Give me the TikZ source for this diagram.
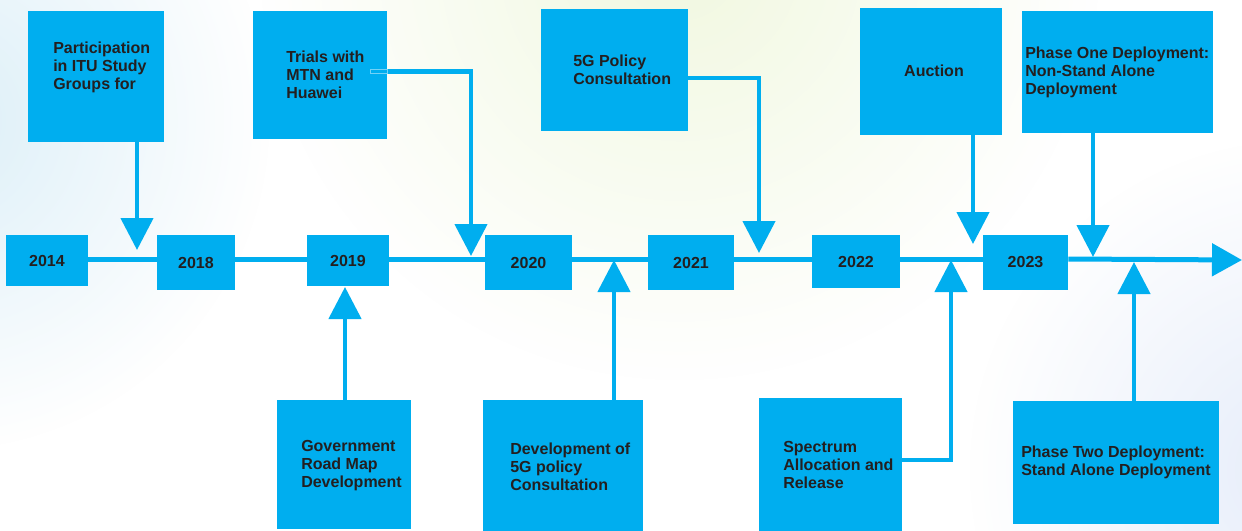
\documentclass[tikz,border=0pt]{standalone}
\usepackage{fontspec}
\setmainfont{Liberation Sans}
\usetikzlibrary{arrows.meta,fadings}
\definecolor{boxblue}{HTML}{00AEEF}
\definecolor{txt}{HTML}{231F20}
\definecolor{bgblue}{HTML}{DCEFF8}
\definecolor{bggreen}{HTML}{F1F8E0}
\definecolor{bglav}{HTML}{E6EDFA}
\tikzfading[name=softfade, inner color=transparent!0, outer color=transparent!100]
\begin{document}
\begin{tikzpicture}[x=0.75pt, y=-0.75pt,
  box/.style 2 args={draw=none, fill=boxblue, rectangle, inner sep=0pt,
    minimum width=#1*0.75pt, minimum height=#2*0.75pt,
    font=\fontsize{12}{13.5}\selectfont\bfseries, text=txt},
  lbl/.style={anchor=north west, inner sep=0pt, align=left,
    font=\fontsize{12}{13.5}\selectfont\bfseries, text=txt},
  conn/.style={draw=boxblue, line width=3.4pt,
    -{Triangle[length=24pt, width=24pt]}},
  tline/.style={draw=boxblue, line width=3.75pt}]
\useasboundingbox (0,0) rectangle (1242,531);
% background
\begin{scope}
\clip (0,0) rectangle (1242,531);
\fill[white] (0,0) rectangle (1242,531);
\fill[bgblue, path fading=softfade] (-60,120) circle (330);
\fill[bggreen, path fading=softfade] (680,-40) circle (420);
\fill[bglav, path fading=softfade] (1300,470) circle (330);
\end{scope}

% year boxes
\node[box={82}{51}] (y14) at (47,260.5) {2014};
\node[box={78}{55}] (y18) at (196,262.5) {2018};
\node[box={82}{51}] (y19) at (348,260.5) {2019};
\node[box={87}{55}] (y20) at (528.5,262.5) {2020};
\node[box={86}{55}] (y21) at (691,262.5) {2021};
\node[box={88}{53}] (y22) at (856,261.5) {2022};
\node[box={85}{55}] (y23) at (1025.5,262.5) {2023};
\coordinate (tl) at (0,259);
\coordinate (tlend) at (1242,260);

% event boxes (top)
\node[box={136}{131}] (p1) at (96,76.5) {};
\node[box={134}{128}] (p2) at (320,75) {};
\node[box={147}{122}] (p3) at (614.5,70) {};
\node[box={142}{127}] (p4) at (931,71.5) {};
\node[box={191}{122}] (p5) at (1117.5,72) {};
% event boxes (bottom)
\node[box={134}{129}] (q1) at (344,464.5) {};
\node[box={160}{131}] (q2) at (563,465.5) {};
\node[box={143}{133}] (q3) at (830.5,464.5) {};
\node[box={206}{123}] (q4) at (1116,462.5) {};

% labels
\node[lbl] (t1) at (53,42) {Participation\\in ITU Study\\Groups for};
\node[lbl] (t2) at (286,51) {Trials with\\MTN and\\Huawei};
\node[lbl] (t3) at (573,55) {5G Policy\\Consultation};
\node[box={0}{0}, fill=none] (t4) at (934,71) {Auction};
\node[lbl] (t5) at (1025,47) {Phase One Deployment:\\Non-Stand Alone\\Deployment};
\node[lbl] (s1) at (301,440) {Government\\Road Map\\Development};
\node[lbl] (s2) at (510,443) {Development of\\5G policy\\Consultation};
\node[lbl] (s3) at (783,441) {Spectrum\\Allocation and\\Release};
\node[lbl] (s4) at (1021,446) {Phase Two Deployment:\\Stand Alone Deployment};

% timeline
\draw[tline] (y14.east |- tl) -- (y18.west |- tl);
\draw[tline] (y18.east |- tl) -- (y19.west |- tl);
\draw[tline] (y19.east |- tl) -- (y20.west |- tl);
\draw[tline] (y20.east |- tl) -- (y21.west |- tl);
\draw[tline] (y21.east |- tl) -- (y22.west |- tl);
\draw[tline] (y22.east |- tl) -- (y23.west |- tl);
\draw[tline, -{Triangle[length=22.5pt, width=24pt]}] (y23.east |- tl) -- (tlend);

% connector targets
\coordinate (a1) at (137,250);
\coordinate (a2) at (471,256);
\coordinate (a3) at (759,253);
\coordinate (a4) at (973,244);
\coordinate (a5) at (1093,257);
\coordinate (b1) at (345,287);
\coordinate (b2) at (614,260);
\coordinate (b3) at (951,260);
\coordinate (b4) at (1134,262);

% connectors
\draw[conn] (p1.south -| a1) -- (a1);
\draw[conn] ([shift={(-17,-3.5)}]p2.east) -| (a2);
\draw[boxblue!55!white, line width=0.6pt] ([shift={(-17,-5.5)}]p2.east) rectangle ([shift={(0,-1.5)}]p2.east);
\draw[conn] ([shift={(0,8)}]p3.east) -| (a3);
\draw[conn] (p4.south -| a4) -- (a4);
\draw[conn] (p5.south -| a5) -- (a5);
\draw[conn] (q1.north -| b1) -- (b1);
\draw[conn] (q2.north -| b2) -- (b2);
\draw[conn] ([shift={(0,-4.5)}]q3.east) -| (b3);
\draw[conn] (q4.north -| b4) -- (b4);
\end{tikzpicture}
\end{document}
